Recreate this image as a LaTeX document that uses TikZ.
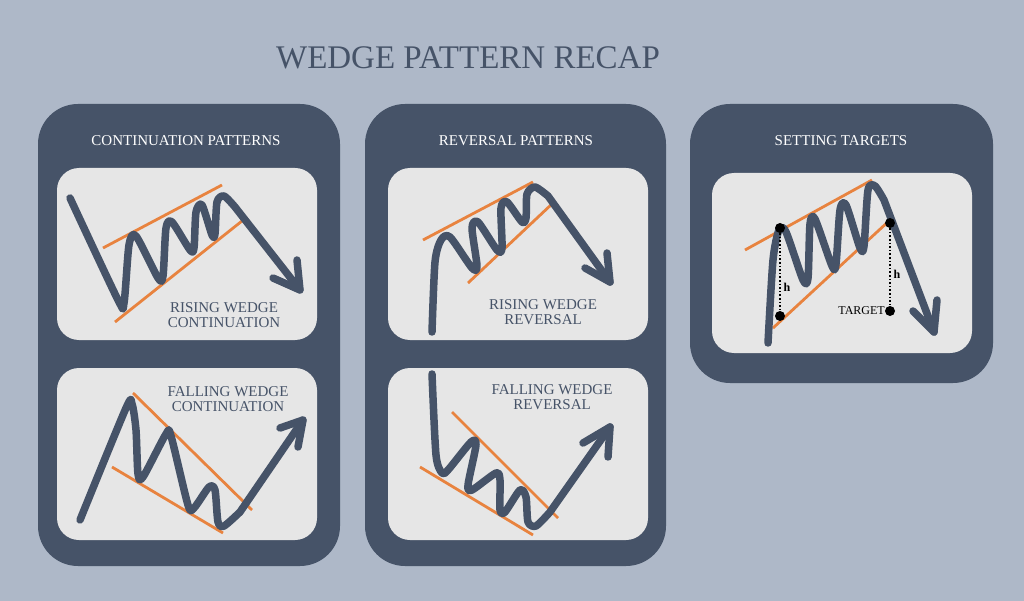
\documentclass[tikz,border=0pt]{standalone}
\usepackage{fontspec}
\setmainfont{Liberation Serif}
\definecolor{bg}{HTML}{AEB8C8}
\definecolor{panel}{HTML}{465368}
\definecolor{inner}{HTML}{E6E6E6}
\definecolor{orng}{HTML}{E8833F}
\definecolor{ink}{HTML}{465368}
\begin{document}
\begin{tikzpicture}[x=1pt,y=-1pt,
  panelbox/.style={fill=panel,rounded corners=40pt},
  innerbox/.style={fill=inner,rounded corners=22pt},
  price/.style={draw=ink,line width=7.5pt,line cap=round,line join=round},
  wedge/.style={draw=orng,line width=2.8pt},
  hdr/.style={text=white,font=\fontsize{15}{17}\selectfont},
  lbl/.style={text=ink,font=\fontsize{15}{17}\selectfont,align=center},
  dot/.style={circle,fill=black,inner sep=0pt,minimum size=10pt},
  ttl/.style={text=ink,font=\fontsize{33}{36}\selectfont}]
\fill[bg] (0,0) rectangle (1024,601);
\useasboundingbox (0,0) rectangle (1024,601);
\node[ttl] (title) at (468,58) {WEDGE PATTERN RECAP};
% panels
\fill[panelbox] (38,104) rectangle (340,566);
\fill[panelbox] (365,104) rectangle (666,566);
\fill[panelbox] (690,104) rectangle (993,383);
\node[hdr] (h1) at (186,141) {CONTINUATION PATTERNS};
\node[hdr] (h2) at (516,141) {REVERSAL PATTERNS};
\node[hdr] (h3) at (841,141) {SETTING TARGETS};
\fill[innerbox] (57,168) rectangle (317,340);
\fill[innerbox] (57,368) rectangle (317,540);
\fill[innerbox] (388,168) rectangle (648,340);
\fill[innerbox] (388,368) rectangle (648,540);
\fill[innerbox] (712,173) rectangle (972,353);
% ---- panel 1 top
\draw[wedge] (103,248) -- (222,185);
\draw[wedge] (115,322) -- (247,217);
\draw[price] plot[smooth,tension=0.45] coordinates {(70,198) (118,300) (124,303) (129,245) (136,236) (158,278) (163,276) (166,228) (172,222) (190,250) (194,248) (196,212) (202,205) (212,235) (215,234) (217,202) (224,196) (235,207)} -- (300,290);
\coordinate (t1) at (300,290);
\draw[price] (273,278) -- (t1) -- (297,260);
\node[lbl] (l1) at (224,315) {RISING WEDGE\\[-2pt]CONTINUATION};
% ---- panel 1 bottom
\draw[wedge] (133,393) -- (252,510);
\draw[wedge] (112,467) -- (223,533);
\draw[price] plot[smooth,tension=0.45] coordinates {(80,520) (126,408) (132,404) (136,430) (138,474) (143,477) (166,434) (171,436) (188,505) (194,508) (209,487) (215,490) (218,522) (224,526) (240,512)} -- (303,420);
\coordinate (t2) at (303,420);
\draw[price] (280,428) -- (t2) -- (298,447);
\node[lbl] (l2) at (228,399) {FALLING WEDGE\\[-2pt]CONTINUATION};
% ---- panel 2 top
\draw[wedge] (423,240) -- (533,182);
\draw[wedge] (468,283) -- (553,203);
\draw[price] plot[smooth,tension=0.45] coordinates {(432,332) (435,262) (441,240) (450,237) (472,268) (477,266) (472,228) (478,222) (497,250) (502,248) (501,208) (507,202) (522,222) (526,218) (527,194) (535,187) (548,196)} -- (610,282);
\coordinate (t3) at (610,282);
\draw[price] (585,268) -- (t3) -- (607,253);
\node[lbl] (l3) at (543,312) {RISING WEDGE\\[-2pt]REVERSAL};
% ---- panel 2 bottom
\draw[wedge] (452,412) -- (558,518);
\draw[wedge] (420,467) -- (533,535);
\draw[price] plot[smooth,tension=0.45] coordinates {(432,374) (436,455) (442,473) (448,470) (471,442) (476,445) (468,485) (472,490) (496,473) (500,480) (500,510) (505,512) (520,490) (526,497) (528,522) (536,526) (550,512)} -- (610,427);
\coordinate (t4) at (610,427);
\draw[price] (583,443) -- (t4) -- (608,457);
\node[lbl] (l4) at (552,397) {FALLING WEDGE\\[-2pt]REVERSAL};
% ---- panel 3
\draw[wedge] (745,250) -- (872,180);
\draw[wedge] (773,328) -- (890,220);
\draw[price] plot[smooth,tension=0.45] coordinates {(768,343) (773,260) (779,230) (786,232) (803,280) (808,278) (810,224) (815,219) (832,266) (836,264) (840,210) (846,205) (860,248) (864,246) (868,190) (875,186) (884,200)} -- (934,332);
\coordinate (t5) at (934,332);
\draw[price] (913,311) -- (t5) -- (937,300);
\node[dot] (d1) at (780,228) {};
\node[dot] (d2) at (780,316) {};
\node[dot] (d3) at (890,223) {};
\node[dot] (d4) at (890,311) {};
\draw[black,line width=1.6pt,dotted] (d1) -- (d2);
\draw[black,line width=1.6pt,dotted] (d3) -- (d4);
\node[font=\fontsize{12}{14}\selectfont\bfseries] (hA) at (787,287) {h};
\node[font=\fontsize{12}{14}\selectfont\bfseries] (hB) at (897,274) {h};
\node[font=\fontsize{12}{14}\selectfont,anchor=east,inner sep=0pt] (tg) at (885,311) {TARGET};
\end{tikzpicture}
\end{document}
